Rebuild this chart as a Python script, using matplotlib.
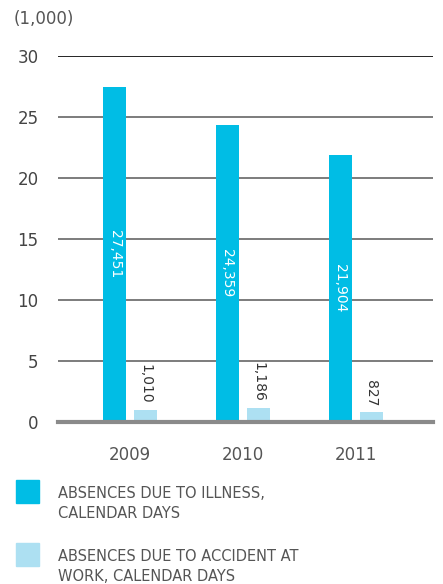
import numpy as np
import matplotlib
matplotlib.use('Agg')
import matplotlib.pyplot as plt
from matplotlib.patches import Rectangle

years = ['2009', '2010', '2011']
illness = [27.451, 24.359, 21.904]
accident = [1.010, 1.186, 0.827]
illness_labels = ['27,451', '24,359', '21,904']
accident_labels = ['1,010', '1,186', '827']
legend_labels = ['ABSENCES DUE TO ILLNESS,\nCALENDAR DAYS',
                 'ABSENCES DUE TO ACCIDENT AT\nWORK, CALENDAR DAYS']
yticks = [0, 5, 10, 15, 20, 25, 30]

dark = '#00BDE5'
light = '#ADE0F2'
grey = '#555555'

plt.rcParams['font.family'] = 'DejaVu Sans'

fig = plt.figure(figsize=(4.43, 5.84), dpi=100)
ax = fig.add_axes([0.131, 0.2774, 0.846, 0.6267])

x = np.arange(len(years))
w = 0.204
off = 0.137
b1 = ax.bar(x - off, illness, w, color=dark, zorder=3)
b2 = ax.bar(x + off, accident, w, color=light, zorder=3)

# labels on/above bars
for rect, lab in zip(b1, illness_labels):
    ax.text(rect.get_x() + rect.get_width() / 2, rect.get_height() / 2, lab,
            rotation=-90, ha='center', va='center', color='white', fontsize=10, zorder=4)
for rect, lab in zip(b2, accident_labels):
    ax.annotate(lab, (rect.get_x() + rect.get_width() / 2, rect.get_height()),
                xytext=(0, 4), textcoords='offset points',
                rotation=-90, ha='center', va='bottom', color='#333333', fontsize=10)

ax.set_xlim(-0.637, 2.681)
ax.set_ylim(0, 30)
ax.set_yticks(yticks)
ax.set_xticks(x)
ax.set_xticklabels(years)
ax.tick_params(axis='both', length=0, labelsize=12, colors=grey)
ax.tick_params(axis='y', pad=14)
ax.tick_params(axis='x', pad=17)
for t in ax.get_yticklabels():
    t.set_color('#444444')

for s in ax.spines.values():
    s.set_visible(False)

for v in yticks[1:]:
    ax.axhline(v, color='black' if v == 30 else '#666666', lw=1.2, zorder=1)
ax.axhline(0, color='#8a8a8a', lw=3, zorder=5, clip_on=False)

fig.text(0.03, 0.968, '(1,000)', fontsize=12, color=grey, va='center')

# legend
for i, (lab, col) in enumerate(zip(legend_labels, [dark, light])):
    y0 = 1 - 503 / 584 - i * 63 / 584
    fig.add_artist(Rectangle((16 / 443, y0), 23 / 443, 23 / 584,
                             color=col, transform=fig.transFigure))
    fig.text(58 / 443, y0 + 23 / 584 - 6 / 584, lab, fontsize=10.5, color=grey,
             va='top', ha='left', linespacing=1.4)

fig.savefig('out.png', dpi=100)
